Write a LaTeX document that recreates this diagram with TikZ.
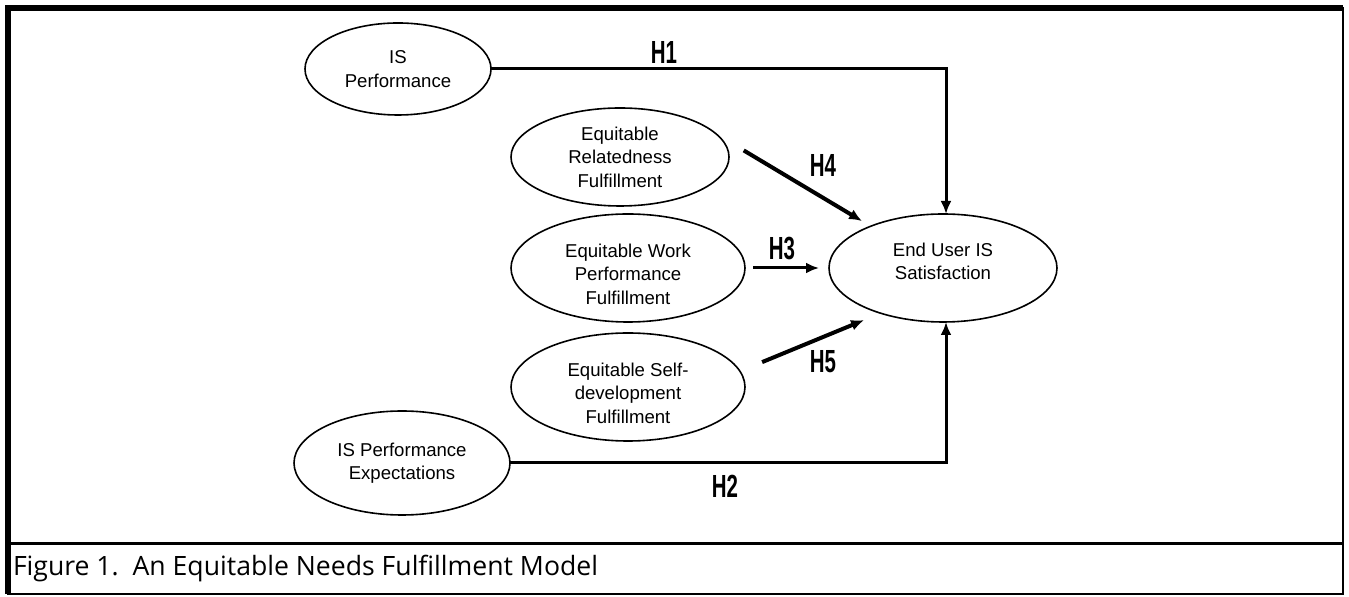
\documentclass[tikz,border=0pt]{standalone}
\usepackage{fontspec}
\setmainfont{Liberation Sans}
\newfontfamily\hypfont[FakeStretch=0.64]{Liberation Sans}
\newfontfamily\capfont{Open Sans}
\usetikzlibrary{positioning,shapes.geometric,arrows.meta}

\begin{document}
\begin{tikzpicture}
[x=0.5pt,y=-0.5pt,
 every node/.style={inner sep=0pt,outer sep=0pt,font=\fontsize{9.3}{11.7}\selectfont},
 var/.style={ellipse,draw=black,line width=0.8pt,align=center},
 hyp/.style={font=\hypfont\bfseries\fontsize{16}{16}\selectfont},
 link/.style={line width=1.5pt,-{Latex[length=6.5pt,width=5.5pt]}}]
\useasboundingbox (0,0) rectangle (1349,597);
\draw[line width=1.2pt] (8,8) rectangle (1343,594);
\draw[line width=3pt] (8,594) -- (8,8) -- (1343,8);
\draw[line width=1.5pt] (8,544) -- (1343,544);
\node[anchor=west,font=\capfont\fontsize{13.3}{13.3}\selectfont] (cap) at (13,569) {Figure 1.\ \ An Equitable Needs Fulfillment Model};
\node[var,minimum width=114pt,minimum height=54pt] (sat) at (943,268) {End User IS\\Satisfaction\rule[-6.5pt]{0pt}{0pt}};
\node[var,minimum width=117pt,minimum height=54pt] (work) [on grid,left=157.5pt of sat]                {\rule{0pt}{12.8pt}Equitable Work\\Performance\\Fulfillment};
\node[var,minimum width=109pt,minimum height=49pt] (rel)  [on grid,above left=55.5pt and 161.5pt of sat] {Equitable\\Relatedness\\Fulfillment};
\node[var,minimum width=117pt,minimum height=54pt] (self) [on grid,below left=59.5pt and 157.5pt of sat] {\rule{0pt}{12.8pt}Equitable Self-\\development\\Fulfillment};
\node[var,minimum width=93pt,minimum height=46pt]  (isp)  [on grid,above left=99.5pt and 272.5pt of sat] {IS\\Performance};
\node[var,minimum width=108pt,minimum height=52pt] (ise)  [on grid,below left=97.5pt and 270.5pt of sat] {IS Performance\\Expectations};
\node[hyp] (h1) at (664,53)  {H1};
\node[hyp] (h2) at (725,486) {H2};
\node[hyp] (h3) at (782,249) {H3};
\node[hyp] (h4) at (823,166) {H4};
\node[hyp] (h5) at (823,362) {H5};
\draw[link] (isp) -| ([xshift=1.5pt]sat.north);
\draw[link] (ise) -| ([xshift=1.5pt]sat.south);
\draw[link,shorten <=4pt,shorten >=5pt] (work) -- (sat);
\draw[link,line width=2pt,shorten <=28pt,shorten >=5pt] (rel.25) -- (sat.150);
\draw[link,line width=2pt,shorten <=12pt,shorten >=9pt] (self.8) -- (sat.216);
\end{tikzpicture}
\end{document}
